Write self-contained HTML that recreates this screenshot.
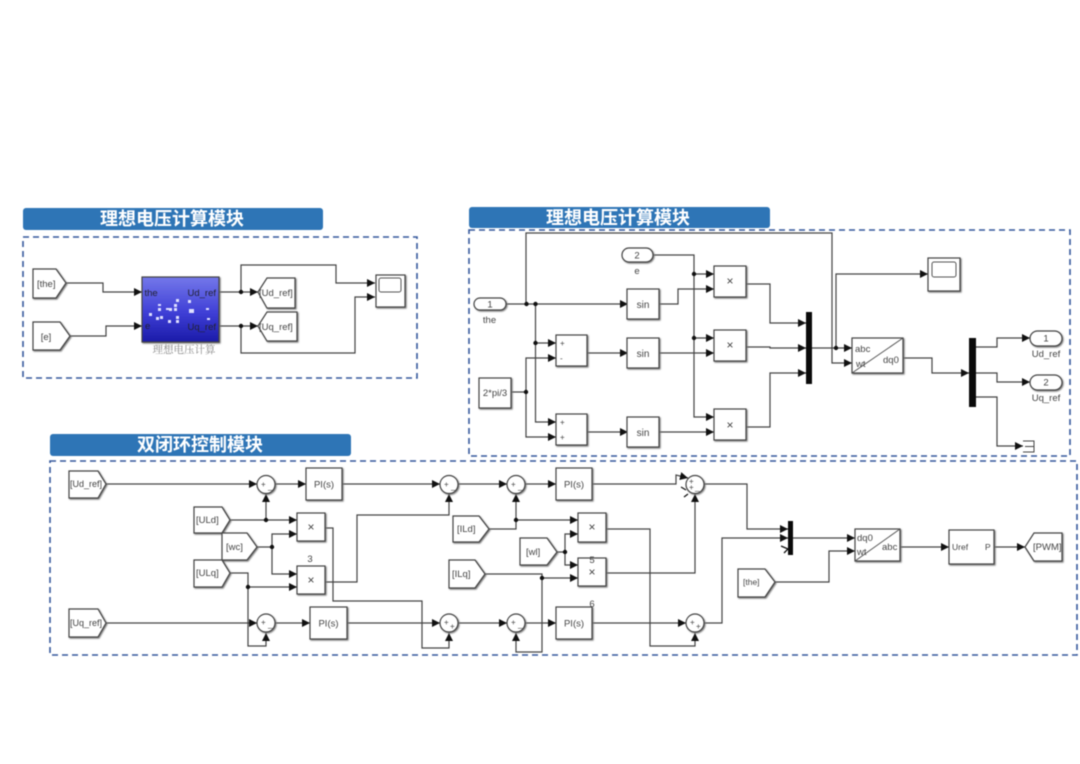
<!DOCTYPE html>
<html><head><meta charset="utf-8">
<style>
html,body{margin:0;padding:0;background:#fff;width:1080px;height:764px;overflow:hidden}
svg{display:block;filter:blur(.55px)}
text{font-family:"Liberation Sans","Noto Sans CJK SC",sans-serif;fill:#444;font-size:9.5px}
.h{font-family:"Liberation Sans","Noto Sans CJK SC",sans-serif;font-size:18px;font-weight:700;fill:#fff;text-anchor:middle}
.c{text-anchor:middle}
.w polyline{fill:none;stroke:#444;stroke-width:1.2;marker-end:url(#a)}
.b rect,.b polygon,.b circle{fill:#fff;stroke:#444;stroke-width:1.2}
.b{filter:drop-shadow(1px 1px .7px #777)}
.d{fill:none;stroke:#35589c;stroke-width:1.6;stroke-dasharray:6 4}
.dot{fill:#111}
.bar{fill:#0a0a0a}
</style></head><body>
<svg width="1080" height="764" viewBox="0 0 1080 764" xmlns="http://www.w3.org/2000/svg">
<defs>
<marker id="a" markerUnits="userSpaceOnUse" markerWidth="9" markerHeight="9" refX="8" refY="4" orient="auto"><path d="M0 0L8 4L0 8z" fill="#111"/></marker>
<linearGradient id="g" x1="0" y1="0" x2="0" y2="1"><stop offset="0" stop-color="#7478ea"/><stop offset=".55" stop-color="#3f3fd6"/><stop offset="1" stop-color="#1a1aa8"/></linearGradient>
</defs>
<rect x="23" y="208" width="300" height="22" rx="3" fill="#2e75b6"/>
<text class="h" x="172" y="225">理想电压计算模块</text>
<rect x="469" y="207" width="301" height="21" rx="3" fill="#2e75b6"/>
<text class="h" x="618" y="224">理想电压计算模块</text>
<rect x="50" y="434" width="301" height="22" rx="3" fill="#2e75b6"/>
<text class="h" x="200" y="451">双闭环控制模块</text>
<rect class="d" x="23" y="237" width="394" height="141"/>
<rect class="d" x="469" y="230" width="601" height="226"/>
<rect class="d" x="50" y="461" width="1027" height="194"/>

<!-- Left diagram -->
<g class="w">
<polyline points="66,283 103,283 103,292 142,292"/>
<polyline points="70,336 106,336 106,326 142,326"/>
<polyline points="219,292 258,292"/>
<polyline points="219,326 258,326"/>
<polyline points="241,292 241,265 336,265 336,283 375,283"/>
<polyline points="241,326 241,353 355,353 355,297 375,297"/>
</g>
<circle class="dot" cx="241" cy="292" r="2.2"/><circle class="dot" cx="241" cy="326" r="2.2"/>
<g class="b">
<polygon points="33,269 56,269 66,283 56,298 33,298"/>
<polygon points="33,322 60,322 70,336 60,350 33,350"/>
<polygon points="258,292 267,278 295,278 295,308 267,308"/>
<polygon points="258,326 267,312 297,312 297,341 267,341"/>
<rect x="376" y="275" width="29" height="32"/>
<rect x="142" y="277" width="77" height="65" style="fill:url(#g)"/>
</g>
<rect x="379" y="278" width="22" height="14" rx="2" fill="#fff" stroke="#555"/>
<g fill="#dfe0ff">
<rect x="166" y="308" width="3" height="2"/><rect x="176" y="299" width="3" height="3"/><rect x="174" y="304" width="3" height="3"/><rect x="174" y="308" width="3" height="3"/><rect x="176" y="316" width="3" height="3"/><rect x="158" y="304" width="3" height="2"/><rect x="158" y="308" width="3" height="3"/><rect x="169" y="308" width="3" height="3"/><rect x="156" y="317" width="3" height="3"/><rect x="168" y="320" width="3" height="3"/><rect x="176" y="320" width="3" height="3"/><rect x="149" y="313" width="3" height="3"/><rect x="188" y="300" width="3" height="3"/><rect x="189" y="309" width="5" height="4"/><rect x="207" y="318" width="3" height="2"/><rect x="206" y="308" width="3" height="2"/><rect x="160" y="316" width="3" height="3"/>
</g>
<g>
<text x="144.500" y="296" style="fill:#223">the</text><text x="145" y="329" style="fill:#223">e</text>
<text x="216" y="296" text-anchor="end" style="fill:#223">Ud_ref</text><text x="216" y="330" text-anchor="end" style="fill:#223">Uq_ref</text>
</g>
<text class="c" x="184" y="353" style="font-size:10.500px;fill:#888;font-family:'Noto Serif CJK SC','Liberation Serif',serif">理想电压计算</text>
<text x="37" y="287">[the]</text><text class="c" x="46" y="340">[e]</text>
<text x="259" y="296">[Ud_ref]</text><text x="259" y="330">[Uq_ref]</text>

<!-- Right diagram -->
<g class="w">
<polyline points="506,304 628,304"/>
<polyline points="526,304 526,233 832,233 832,363 852,363"/>
<polyline points="653,255 694,255 694,417 714,417"/>
<polyline points="694,274 714,274"/><polyline points="694,338 714,338"/>
<polyline points="659,304 678,304 678,289 714,289"/>
<polyline points="659,353 714,353"/><polyline points="659,432 714,432"/>
<polyline points="535.500,304 535.500,422 556,422"/><polyline points="535.500,343 556,343"/>
<polyline points="511,392 526,392 526,358 556,358"/><polyline points="526,392 526,437 556,437"/>
<polyline points="587,353 628,353"/><polyline points="587,432 628,432"/>
<polyline points="746,284 770,284 770,323 806,323"/><polyline points="746,347 770,347 770,348 806,348"/><polyline points="746,427 770,427 770,373 806,373"/>
<polyline points="812,348 852,348"/><polyline points="836,348 836,274 928,274"/>
<polyline points="903,358 932,358 932,373 969,373"/>
<polyline points="976,347 997,347 997,338 1030,338"/><polyline points="976,373 997,373 997,382 1030,382"/><polyline points="976,397 997,397 997,446 1023,446"/>
</g>
<g class="dot"><circle cx="526.500" cy="304" r="2.2"/><circle cx="535.500" cy="304" r="2.2"/><circle cx="535.500" cy="343" r="2.2"/><circle cx="526" cy="392" r="2.2"/><circle cx="694" cy="274" r="2.2"/><circle cx="694" cy="338" r="2.2"/><circle cx="836" cy="348" r="2.2"/></g>
<g class="b">
<rect x="474" y="298" width="32" height="12" rx="6"/>
<rect x="622" y="248" width="31" height="14" rx="7"/>
<rect x="479" y="378" width="32" height="30"/>
<rect x="556" y="335" width="31" height="31"/><rect x="556" y="414" width="31" height="31"/>
<rect x="627" y="289" width="32" height="30"/><rect x="627" y="338" width="32" height="30"/><rect x="627" y="417" width="32" height="30"/>
<rect x="714" y="266" width="32" height="31"/><rect x="714" y="330" width="32" height="31"/><rect x="714" y="409" width="32" height="31"/>
<rect x="852" y="338" width="51" height="35"/>
<rect x="928" y="258" width="32" height="33"/>
<rect x="1030" y="331" width="32" height="15" rx="7.500"/><rect x="1030" y="375" width="32" height="15" rx="7.500"/>
</g>
<rect x="932" y="262" width="24" height="15" rx="2" fill="#fff" stroke="#555"/>
<line x1="852" y1="373" x2="903" y2="338" stroke="#555"/>
<rect class="bar" x="806" y="312" width="6" height="72"/>
<rect class="bar" x="969" y="338" width="7" height="69"/>
<path d="M1023,441H1034V452H1023M1025,446.500H1034" fill="none" stroke="#444"/>
<g>
<text class="c" x="490" y="307.500">1</text><text class="c" x="489.500" y="323">the</text>
<text class="c" x="637" y="258.500">2</text><text class="c" x="637" y="274">e</text>
<text class="c" x="495" y="396">2*pi/3</text>
<text x="560" y="346" style="font-size:8px">+</text><text x="560" y="361" style="font-size:8px">-</text>
<text x="560" y="425" style="font-size:8px">+</text><text x="560" y="440" style="font-size:8px">+</text>
<text class="c" x="643" y="308" style="font-size:10px">sin</text><text class="c" x="643" y="357" style="font-size:10px">sin</text><text class="c" x="643" y="436" style="font-size:10px">sin</text>
<text class="c" x="730" y="285" style="font-size:12px">×</text><text class="c" x="730" y="349" style="font-size:12px">×</text><text class="c" x="730" y="429" style="font-size:12px">×</text>
<text x="855" y="352">abc</text><text x="856" y="367">wt</text><text x="883" y="363">dq0</text>
<text class="c" x="1046" y="341.500">1</text><text class="c" x="1046" y="357">Ud_ref</text>
<text class="c" x="1046" y="385.500">2</text><text class="c" x="1046" y="401">Uq_ref</text>
</g>

<!-- Bottom diagram -->
<g class="w">
<polyline points="106,484 257,484"/><polyline points="275,484 306,484"/>
<polyline points="230,520 297,520"/><polyline points="266,520 266,494"/>
<polyline points="257,547 272,547 272,534 297,534"/><polyline points="272,547 272,574 297,574"/>
<polyline points="230,573 248,573 248,646 266,646 266,633"/><polyline points="248,587 297,587"/>
<polyline points="106,623 257,623"/><polyline points="275,623 310,623"/>
<polyline points="342,484 440,484"/><polyline points="458,484 507,484"/><polyline points="525,484 556,484"/>
<polyline points="325,582 357,582 357,515 449,515 449,494"/>
<polyline points="325,528 333,528 333,601 422,601 422,648 449,648 449,633"/>
<polyline points="347,623 440,623"/><polyline points="458,623 507,623"/><polyline points="525,623 556,623"/>
<polyline points="489,529 516,529 516,494"/><polyline points="516,520 578,520"/>
<polyline points="557,552 565,552 565,534 578,534"/><polyline points="565,552 565,565 578,565"/>
<polyline points="485,574 542,574 542,652 516,652 516,633"/><polyline points="542,578 578,578"/>
<polyline points="606,529 650,529 650,646 695,646 695,633"/>
<polyline points="606,573 695,573 695,494"/>
<polyline points="592,484 676,484 676,475 688,478"/>
<polyline points="592,623 686,623"/>
<polyline points="704,484 747,484 747,529 788,529"/>
<polyline points="704,623 722,623 722,538 788,538"/>
<polyline points="793,538 855,538"/>
<polyline points="775,582 829,582 829,551 855,551"/>
<polyline points="900,547 949,547"/><polyline points="994,547 1025,547"/>
</g>
<path d="M686,490L681,487M688,494L684,497M781,546L788,549L784,553" stroke="#111" stroke-width="1.300" fill="none"/>
<g class="dot"><circle cx="266" cy="520" r="2.2"/><circle cx="272" cy="547" r="2.2"/><circle cx="248" cy="587" r="2.2"/><circle cx="516" cy="520" r="2.2"/><circle cx="565" cy="552" r="2.2"/><circle cx="542" cy="578" r="2.2"/></g>
<g class="b">
<polygon points="69,471 98,471 106,484 98,498 69,498"/>
<polygon points="69,609 98,609 106,623 98,637 69,637"/>
<polygon points="194,507 222,507 230,520 222,533 194,533"/>
<polygon points="222,533 247,533 257,547 247,560 222,560"/>
<polygon points="194,560 222,560 230,573 222,587 194,587"/>
<polygon points="453,516 479,516 489,529 479,542 453,542"/>
<polygon points="520,538 547,538 557,552 547,565 520,565"/>
<polygon points="449,560 475,560 485,574 475,588 449,588"/>
<polygon points="738,569 765,569 775,582 765,597 738,597"/>
<polygon points="1025,547 1034,533 1062,533 1062,561 1034,561"/>
<circle cx="266" cy="484.500" r="9"/><circle cx="266" cy="623" r="9"/>
<circle cx="449" cy="484.500" r="9"/><circle cx="449" cy="623" r="9"/>
<circle cx="516" cy="484.500" r="9"/><circle cx="516" cy="623" r="9"/>
<circle cx="695" cy="484.500" r="9"/><circle cx="695" cy="623" r="9"/>
<rect x="306" y="468" width="36" height="32"/><rect x="310" y="607" width="37" height="32"/>
<rect x="556" y="468" width="36" height="32"/><rect x="556" y="607" width="36" height="32"/>
<rect x="297" y="513" width="28" height="28"/><rect x="297" y="566" width="28" height="28"/>
<rect x="578" y="513" width="28" height="29"/><rect x="578" y="558" width="28" height="28"/>
<rect x="855" y="529" width="45" height="32"/>
<rect x="949" y="530" width="45" height="34"/>
</g>
<line x1="855" y1="561" x2="900" y2="529" stroke="#555"/>
<rect class="bar" x="788" y="521" width="5" height="34"/>
<g>
<text x="70" y="487" style="font-size:9px">[Ud_ref]</text><text x="70" y="626" style="font-size:9px">[Uq_ref]</text>
<text x="196" y="523">[ULd]</text><text x="226" y="550">[wc]</text><text x="196" y="576">[ULq]</text>
<text x="457" y="532">[ILd]</text><text x="526" y="555">[wl]</text><text x="452" y="577">[ILq]</text>
<text x="743" y="585" style="font-size:8.500px">[the]</text><text x="1033" y="550">[PWM]</text>
<text class="c" x="324" y="487.500">PI(s)</text><text class="c" x="328.500" y="626.500">PI(s)</text>
<text class="c" x="574" y="487.500">PI(s)</text><text class="c" x="574" y="626.500">PI(s)</text>
<text class="c" x="311" y="531" style="font-size:12px">×</text><text class="c" x="311" y="584" style="font-size:12px">×</text>
<text class="c" x="592" y="531" style="font-size:12px">×</text><text class="c" x="592" y="576" style="font-size:12px">×</text>
<text class="c" x="310" y="562">3</text><text class="c" x="592" y="563">5</text><text class="c" x="592" y="607">6</text>
<text x="261" y="487" style="font-size:8px">+</text><text x="268" y="489" style="font-size:8px">_</text>
<text x="261" y="625" style="font-size:8px">+</text><text x="268" y="627" style="font-size:8px">_</text>
<text x="444" y="487" style="font-size:8px">+</text><text x="451" y="489" style="font-size:8px">_</text>
<text x="444" y="625" style="font-size:8px">+</text><text x="450" y="629" style="font-size:8px">+</text>
<text x="511" y="487" style="font-size:8px">+</text><text x="518" y="489" style="font-size:8px">_</text>
<text x="511" y="625" style="font-size:8px">+</text><text x="518" y="627" style="font-size:8px">_</text>
<text x="689" y="484" style="font-size:8px">+</text><text x="689" y="490" style="font-size:8px">+</text><text x="695" y="490" style="font-size:8px">_</text>
<text x="690" y="625" style="font-size:8px">+</text><text x="696" y="629" style="font-size:8px">+</text>
<text x="857" y="541">dq0</text><text x="857" y="555">wt</text><text x="882" y="550">abc</text>
<text x="952" y="550" style="font-size:8.500px">Uref</text><text x="985" y="550" style="font-size:8.500px">P</text>
</g>
</svg>
</body></html>
